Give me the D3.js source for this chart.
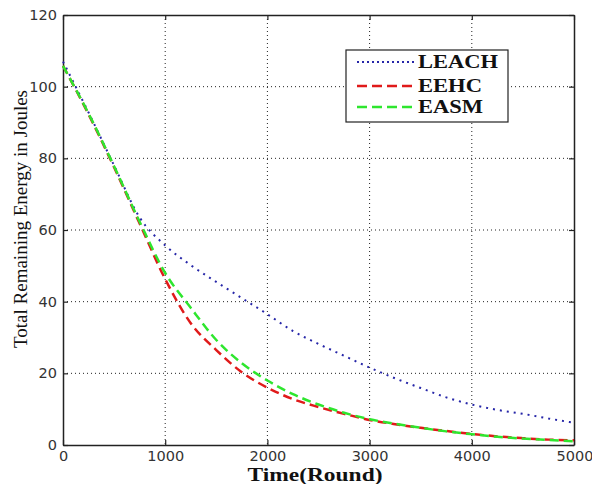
<!DOCTYPE html>
<html><head><meta charset="utf-8">
<script src="https://cdn.jsdelivr.net/npm/d3@7"></script>
<style>body{margin:0;background:#fff}</style>
</head><body>
<svg id="c" width="592" height="484"></svg>
<script>
const rounds = [0,250,500,750,1000,1250,1500,1750,2000,2250,2500,2750,3000,3250,3500,3750,4000,4250,4500,4750,5000];
const leach = [107,92.8,78,63.5,55.7,50.2,45.5,41,36.5,31.8,28.2,24.9,21.6,18.6,15.9,13.3,11.3,9.8,8.7,7.4,6.2];
const eehc  = [105.8,92.3,77.5,61.8,46.3,34,26.5,20.3,16,12.8,10.6,8.7,7,5.8,4.8,3.9,3.1,2.4,1.9,1.5,1.3];
const easm  = [105.8,92.5,77.8,62.3,48,38.3,29.3,22.8,18,14.2,11.3,9,7.2,5.9,4.8,3.8,3,2.3,1.8,1.4,1.0];
const seriesNames = ["LEACH","EEHC","EASM"];
const xTicks = [0,1000,2000,3000,4000,5000];
const yTicks = [0,20,40,60,80,100,120];
const xTitle = "Time(Round)";
const yTitle = "Total Remaining Energy in Joules";

const L=63, R=574, T=15, B=445;
const svg = d3.select("#c");
const x = d3.scaleLinear().domain([0,5000]).range([L,R]);
const y = d3.scaleLinear().domain([0,120]).range([B,T]);

// grid
const grid = svg.append("g").attr("stroke","#222").attr("stroke-width",1).attr("stroke-dasharray","1,3");
xTicks.slice(1,-1).forEach(v=>grid.append("line").attr("x1",x(v)).attr("x2",x(v)).attr("y1",T).attr("y2",B));
yTicks.slice(1,-1).forEach(v=>grid.append("line").attr("y1",y(v)).attr("y2",y(v)).attr("x1",L).attr("x2",R));

// axes with inward ticks
const fmt = d3.format("d");
const ax = svg.append("g").attr("transform",`translate(0,${B})`).call(d3.axisBottom(x).tickValues(xTicks).tickFormat(fmt).tickSizeInner(-5).tickSizeOuter(0).tickPadding(6));
const ay = svg.append("g").attr("transform",`translate(${L},0)`).call(d3.axisLeft(y).tickValues(yTicks).tickFormat(fmt).tickSizeInner(-5).tickSizeOuter(0).tickPadding(6));
const at = svg.append("g").attr("transform",`translate(0,${T})`).call(d3.axisTop(x).tickValues(xTicks).tickFormat("").tickSizeInner(-5).tickSizeOuter(0));
const ar = svg.append("g").attr("transform",`translate(${R},0)`).call(d3.axisRight(y).tickValues(yTicks).tickFormat("").tickSizeInner(-5).tickSizeOuter(0));
[ax,ay,at,ar].forEach(g=>{
  g.select(".domain").attr("stroke","#222").attr("stroke-width",1.5);
  g.selectAll(".tick line").attr("stroke","#222").attr("stroke-width",1.2);
  g.selectAll("text").attr("font-family","DejaVu Sans").attr("font-size",14.5).attr("fill","#333");
});
ax.selectAll(".tick text").filter(d=>d===5000).attr("text-anchor","end").attr("dx","19");

// lines
const mk = vals => d3.line().x((d,i)=>x(rounds[i])).y(d=>y(d)).curve(d3.curveMonotoneX)(vals);
const styles = [
  {data:leach,color:"#2626a8",w:2,dash:"2,5"},
  {data:eehc,color:"#e01a1a",w:2.5,dash:"9,5"},
  {data:easm,color:"#2ee62e",w:2.5,dash:"9,5"}
];
styles.forEach(s=>svg.append("path").attr("d",mk(s.data)).attr("fill","none")
  .attr("stroke",s.color).attr("stroke-width",s.w).attr("stroke-dasharray",s.dash));

// legend
const lg = svg.append("g");
lg.append("rect").attr("x",346).attr("y",50).attr("width",162).attr("height",72).attr("fill","#fff").attr("stroke","#222").attr("stroke-width",1.2);
const ly=[62,86,107];
styles.forEach((s,i)=>{
  lg.append("line").attr("x1",357).attr("x2",415).attr("y1",ly[i]).attr("y2",ly[i])
    .attr("stroke",s.color).attr("stroke-width",s.w).attr("stroke-dasharray",i==0?"2,3":"10,5");
  lg.append("text").attr("x",418).attr("y",ly[i]+6).text(seriesNames[i])
    .attr("font-family","Liberation Serif").attr("font-weight","bold").attr("font-size",18)
    .attr("textLength",[80,64,65][i]).attr("lengthAdjust","spacingAndGlyphs").attr("fill","#111");
});

// titles
svg.append("text").attr("x",315).attr("y",481).attr("text-anchor","middle").text(xTitle)
  .attr("font-family","Liberation Serif").attr("font-weight","bold").attr("font-size",19)
  .attr("textLength",135).attr("lengthAdjust","spacingAndGlyphs").attr("fill","#111");
svg.append("text").attr("transform","translate(27,219) rotate(-90)").attr("text-anchor","middle").text(yTitle)
  .attr("font-family","Liberation Serif").attr("font-size",18)
  .attr("textLength",258).attr("lengthAdjust","spacingAndGlyphs").attr("fill","#111");
</script>
</body></html>
